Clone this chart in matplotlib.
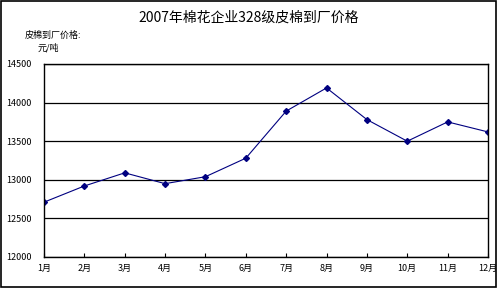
import matplotlib
matplotlib.use("Agg")
import matplotlib.pyplot as plt

plt.rcParams['font.family'] = ['Noto Sans CJK SC', 'DejaVu Sans']

months = ['1月', '2月', '3月', '4月', '5月', '6月', '7月', '8月', '9月', '10月', '11月', '12月']
prices = [12710, 12920, 13090, 12950, 13040, 13280, 13890, 14190, 13780, 13500, 13750, 13620]
yticks = [12000, 12500, 13000, 13500, 14000, 14500]

fig = plt.figure(figsize=(4.97, 2.88), dpi=100)
ax = fig.add_axes([44 / 497, 1 - 257 / 288, 444 / 497, 193 / 288])

x = list(range(len(months)))
ax.plot(x, prices, color='#000080', lw=0.8, marker='D', markersize=3,
        markerfacecolor='#000080', markeredgecolor='#000080')

ax.set_xlim(0, len(months) - 1)
ax.set_ylim(12000, 14500)
ax.set_yticks(yticks)
ax.set_yticklabels([str(v) for v in yticks], fontsize=6.5)
ax.set_xticks(x)
ax.set_xticklabels(months, fontsize=6.5)
ax.tick_params(axis='y', length=0, pad=9)
ax.tick_params(axis='x', length=3, direction='in', pad=5)
ax.grid(axis='y', color='black', lw=0.9)
for s in ax.spines.values():
    s.set_linewidth(1.0)
    s.set_color('black')

fig.text(0.5, 1 - 18 / 288, '2007年棉花企业328级皮棉到厂价格', ha='center', va='center', fontsize=10)
fig.text(25 / 497, 1 - 35 / 288, '皮棉到厂价格:', ha='left', va='center', fontsize=6.5)
fig.text(38 / 497, 1 - 48 / 288, '元/吨', ha='left', va='center', fontsize=6.5)

# outer frame
fig.patches.append(plt.Rectangle((0.002, 0.003), 0.995, 0.994, transform=fig.transFigure,
                                 fill=False, edgecolor='black', lw=1.2))

fig.savefig('out.png', dpi=100)
